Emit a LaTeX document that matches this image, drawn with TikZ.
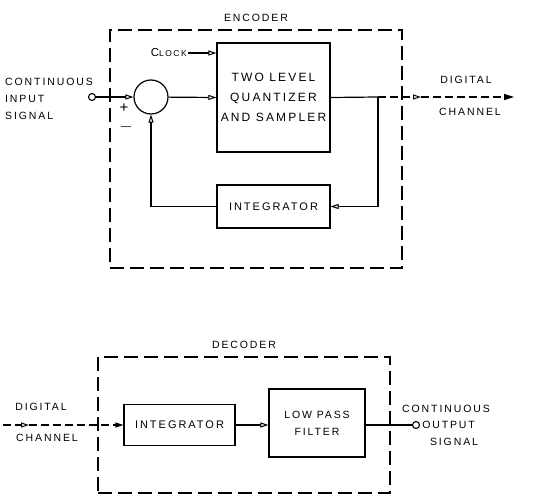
\documentclass[tikz,border=0pt]{standalone}
\usepackage{fontspec}
\setmainfont{Liberation Sans}[LetterSpace=18]
\usetikzlibrary{arrows.meta,positioning}

\begin{document}
\begin{tikzpicture}[x=1pt, y=-1pt,
    >={Triangle[open, length=8pt, width=5pt, line width=1pt]},
    frame/.style={rectangle, draw, dashed, dash pattern=on 14pt off 6pt, line width=1.2pt},
    block/.style={rectangle, draw, line width=1.2pt, align=center, font=\fontsize{11}{21}\selectfont},
    sum/.style={circle, draw, line width=1.2pt, minimum size=34pt, inner sep=0pt},
    term/.style={circle, draw, line width=1.1pt, minimum size=7pt, inner sep=0pt},
    txt/.style={font=\fontsize{10.5}{17}\selectfont, inner sep=1pt},
    sig/.style={line width=1.2pt},
    chan/.style={line width=1.1pt, dashed, dash pattern=on 8pt off 4pt}]

    \useasboundingbox (0,0) rectangle (543,497);

    % Encoder
    \node[frame, minimum width=292pt, minimum height=238pt] (enc) at (256,149) {};
    \node[txt, above=7pt of enc.north] (enctitle) {ENCODER};

    \node[term] (in) at (92,97) {};
    \node[sum] (sum) at (151,97) {};
    \node[block, font=\fontsize{12}{20}\selectfont, minimum width=113pt, minimum height=109pt] (quant) at (273.5,97.5) {TWO LEVEL\\QUANTIZER\\AND SAMPLER};
    \node[block, minimum width=113pt, minimum height=43pt] (integ) at (273.5,206.5) {INTEGRATOR};
    \node[txt, anchor=east, font=\fontsize{11.5}{14}\selectfont] (clock) at (188,53) {C{\fontsize{8.5}{10}\selectfont LOCK}};

    \coordinate (split) at (378,97);
    \coordinate (chmid) at (421,97);
    \coordinate (chout) at (514,97);

    \node[txt, font=\fontsize{15}{16}\selectfont] (plus) at (124,108) {+};
    \node[txt, font=\fontsize{16}{16}\selectfont] (minus) at (126,127) {$-$};

    \draw[sig, ->] (in) -- (sum.west);
    \draw[sig, ->] (sum) -- (quant.west);
    \draw[sig, ->] (clock.east) -- (clock.east -| quant.west);
    \draw[sig] (quant.east) -- (split);
    \draw[sig, ->] (split) |- (integ.east);
    \draw[sig, ->] (integ.west) -| (sum.south);
    \draw[chan, ->] (split) -- (chmid);
    \draw[chan, -{Triangle[length=10pt, width=6pt]}] (chmid) -- (chout);

    % Labels
    \node[txt, align=left, anchor=west] (insig) at (4,99) {CONTINUOUS\\INPUT\\SIGNAL};
    \node[txt] (digout) at (466,80) {DIGITAL};
    \node[txt] (chanout) at (470,112) {CHANNEL};

    % Decoder
    \node[frame, minimum width=292pt, minimum height=136pt] (dec) at (244,425) {};
    \node[txt, above=7pt of dec.north] (dectitle) {DECODER};

    \node[block, minimum width=111pt, minimum height=41pt] (dinteg) at (179.5,425) {INTEGRATOR};
    \node[block, font=\fontsize{10.5}{17}\selectfont, minimum width=96pt, minimum height=68pt] (lpf) at (317,423) {LOW PASS\\FILTER};
    \node[term] (out) at (416,425) {};

    \coordinate (din) at (3,425);
    \coordinate (dmid) at (29,425);

    \draw[chan, ->] (din) -- (dmid);
    \draw[chan, -{Triangle[length=8pt, width=5pt]}] (dmid) -- (dinteg.west);
    \draw[sig, ->] (dinteg.east) -- (dinteg.east -| lpf.west);
    \draw[sig] (lpf.east |- out) -- (out);

    % Labels
    \node[txt] (digin) at (41,407) {DIGITAL};
    \node[txt] (chanin) at (47,438) {CHANNEL};
    \node[txt] (contout) at (446,409) {CONTINUOUS};
    \node[txt, right=1pt of out] (outsig) {OUTPUT};
    \node[txt] (sigout) at (454,442) {SIGNAL};

\end{tikzpicture}
\end{document}
